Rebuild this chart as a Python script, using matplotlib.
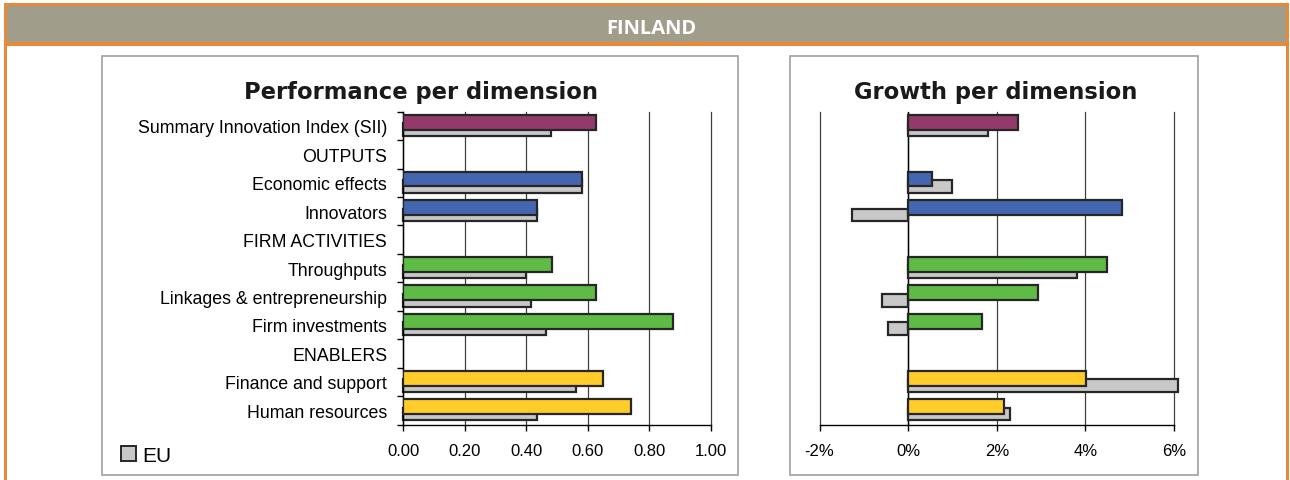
import numpy as np
import matplotlib
matplotlib.use('Agg')
from matplotlib import pyplot as plt
from matplotlib.patches import Rectangle, Patch
from matplotlib import ticker

W, H = 1290, 481

orange = '#E8893A'
header_grey = '#A09D8B'
box_grey = '#A0A0A0'
eu_grey = '#C8C8C8'
purple = '#943A6B'
blue = '#4466B0'
green = '#5DBB46'
yellow = '#FFCC29'
edge = '#262626'

categories = ['Summary Innovation Index (SII)', 'OUTPUTS', 'Economic effects', 'Innovators',
              'FIRM ACTIVITIES', 'Throughputs', 'Linkages & entrepreneurship',
              'Firm investments', 'ENABLERS', 'Finance and support', 'Human resources']
row_colors = [purple, None, blue, blue, None, green, green, green, None, yellow, yellow]

fin_perf = [0.625, None, 0.58, 0.435, None, 0.485, 0.625, 0.875, None, 0.65, 0.74]
eu_perf = [0.48, None, 0.58, 0.435, None, 0.40, 0.415, 0.465, None, 0.56, 0.435]

fin_growth = [2.49, None, 0.55, 4.83, None, 4.48, 2.94, 1.67, None, 4.02, 2.17]
eu_growth = [1.81, None, 1.00, -1.27, None, 3.80, -0.59, -0.45, None, 6.10, 2.31]

perf_ticks = [0.0, 0.2, 0.4, 0.6, 0.8, 1.0]
growth_ticks = [-2, 0, 2, 4, 6]

label_font = 'Liberation Sans'


def fx(px):
    return px / W


def fy(py):
    return 1 - py / H


def draw_bars(ax, fin, eu):
    idx = [i for i in range(len(categories)) if fin[i] is not None]
    y = np.array(idx, dtype=float)
    ax.barh(y + 0.13, [eu[i] for i in idx], height=0.45, color=eu_grey,
            edgecolor=edge, linewidth=1.6, zorder=2, clip_on=False)
    ax.barh(y - 0.13, [fin[i] for i in idx], height=0.52, color=[row_colors[i] for i in idx],
            edgecolor=edge, linewidth=1.6, zorder=3)


def style_axis(ax):
    ax.set_ylim(len(categories) - 0.5, -0.5)
    ax.set_facecolor('none')
    ax.spines['top'].set_visible(False)
    ax.spines['right'].set_visible(False)
    ax.spines['bottom'].set_color('black')
    ax.spines['bottom'].set_linewidth(1.0)
    ax.xaxis.grid(True, color='#404040', linewidth=0.9)
    for gl in ax.get_xgridlines():
        gl.set_clip_on(False)
    ax.set_axisbelow(True)
    ax.tick_params(axis='x', direction='out', length=4, width=1.0, pad=9, labelsize=12)
    for lab in ax.get_xticklabels():
        lab.set_fontfamily(label_font)


fig = plt.figure(figsize=(W / 100, H / 100), dpi=100)

# header band and frame
fig.add_artist(Rectangle((fx(4), fy(47)), fx(1289) - fx(4), fy(4) - fy(47),
                         transform=fig.transFigure, facecolor=orange, edgecolor='none'))
fig.add_artist(Rectangle((fx(7), fy(43)), fx(1286) - fx(7), fy(7) - fy(43),
                         transform=fig.transFigure, facecolor=header_grey, edgecolor='none'))
fig.add_artist(Rectangle((fx(4), 0), fx(3), fy(47),
                         transform=fig.transFigure, facecolor=orange, edgecolor='none'))
fig.add_artist(Rectangle((fx(1286), 0), fx(3), fy(47),
                         transform=fig.transFigure, facecolor=orange, edgecolor='none'))
fig.text(fx(651), fy(29), 'FINLAND', color='white', fontsize=14.5, fontweight='bold',
         family='Open Sans', ha='center', va='center')

# panel boxes
for x0, x1 in [(101.5, 737.7), (790, 1198)]:
    fig.add_artist(Rectangle((fx(x0), fy(476)), fx(x1) - fx(x0), fy(56.5) - fy(476),
                             transform=fig.transFigure, facecolor='none',
                             edgecolor=box_grey, linewidth=1.2))

# left: performance
ax1 = fig.add_axes([fx(403.2), fy(425.5), fx(711) - fx(403.2), fy(112.7) - fy(425.5)])
draw_bars(ax1, fin_perf, eu_perf)
ax1.set_xlim(0, 1.0)
ax1.set_xticks(perf_ticks)
ax1.xaxis.set_major_formatter(ticker.FormatStrFormatter('%.2f'))
style_axis(ax1)
ax1.spines['left'].set_color('black')
ax1.spines['left'].set_linewidth(1.0)
ax1.set_yticks(range(len(categories)))
ax1.set_yticklabels(categories, fontsize=12.8, family=label_font)
ax1.set_yticks(np.arange(-0.5, len(categories), 1.0), minor=True)
ax1.tick_params(axis='y', which='major', length=0, pad=11.5)
ax1.tick_params(axis='y', which='minor', length=4, width=1.0, direction='out')
fig.text(fx(421), fy(92.5), 'Performance per dimension', fontsize=16.3, fontweight='bold',
         ha='center', va='center', color='#1a1a1a')

# right: growth
ax2 = fig.add_axes([fx(819.5), fy(425.5), fx(1174) - fx(819.5), fy(112.7) - fy(425.5)])
draw_bars(ax2, fin_growth, eu_growth)
ax2.set_xlim(-2, 6)
ax2.set_xticks(growth_ticks)
ax2.xaxis.set_major_formatter(ticker.FuncFormatter(lambda v, p: '%d%%' % v))
style_axis(ax2)
ax2.spines['left'].set_visible(False)
ax2.set_yticks([])
ax2.axvline(0, color='black', linewidth=1.0, zorder=1)
fig.text(fx(996), fy(92.5), 'Growth per dimension', fontsize=16.3, fontweight='bold',
         ha='center', va='center', color='#1a1a1a')

# EU legend
fig.legend(handles=[Patch(facecolor=eu_grey, edgecolor=edge, linewidth=1.4, label='EU')],
           loc='center left', bbox_to_anchor=(fx(121), fy(456)), frameon=False,
           handlelength=0.7, handleheight=0.75, handletextpad=0.3, borderpad=0,
           borderaxespad=0, prop={'family': label_font, 'size': 15})

fig.savefig('out.png', dpi=100)
